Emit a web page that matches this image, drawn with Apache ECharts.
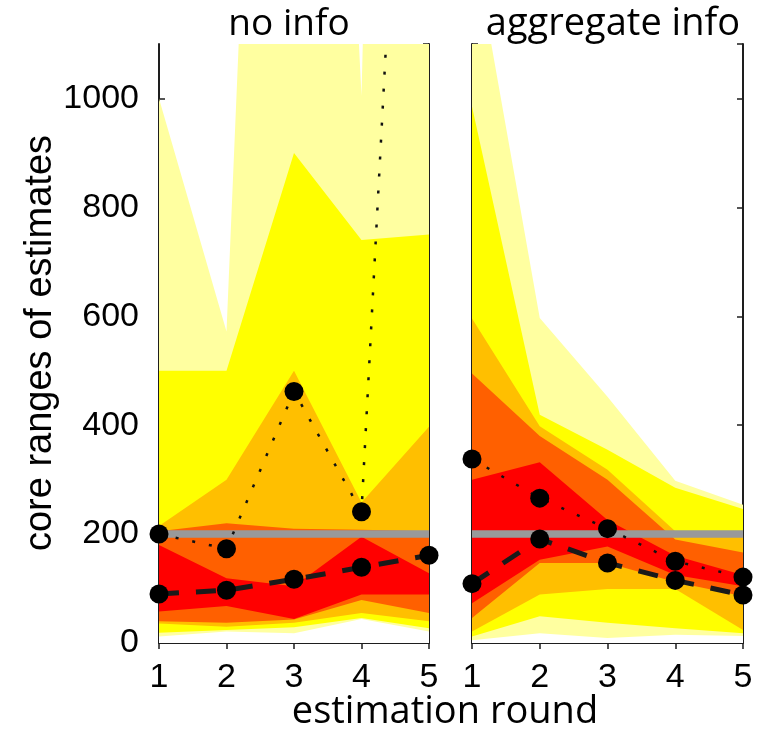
<!DOCTYPE html>
<html>
<head>
<meta charset="utf-8">
<script src="https://cdn.jsdelivr.net/npm/echarts@6/dist/echarts.min.js"></script>
<style>
  html, body { margin: 0; background: #fff; }
  #chart { width: 767px; height: 731px; }
</style>
</head>
<body>
<div id="chart"></div>
<script>
"use strict";

const rounds = [1, 2, 3, 4, 5];
const panelTitles = ["no info", "aggregate info"];
const truthValue = 200;

// band edges per round, lowest edge first (10 edges -> 9 coloured bands)
const noInfoEdges = [
  [12, 21, 18, 44, 21],
  [19, 24, 29, 46, 27],
  [36, 30, 37, 55, 40],
  [40, 37, 43, 79, 55],
  [58, 68, 44, 89, 89],
  [180, 119, 104, 195, 128],
  [205, 220, 210, 208, 205],
  [215, 300, 500, 258, 397],
  [500, 500, 900, 740, 750],
  [1000, 572, 3500, 1005, 6000],
];
const aggInfoEdges = [
  [5, 18, 9, 15, 13],
  [12, 49, 37, 27, 18],
  [21, 89, 99, 99, 24],
  [46, 147, 147, 112, 86],
  [73, 153, 177, 125, 104],
  [300, 332, 226, 160, 125],
  [495, 380, 300, 190, 166],
  [596, 398, 318, 205, 198],
  [985, 419, 355, 285, 246],
  [1300, 597, 452, 298, 254],
];
const noInfoMean = [200, 173, 462, 241, 2600];
const noInfoMedian = [90, 97, 117, 139, 161];
const aggInfoMean = [338, 266, 210, 150, 121];
const aggInfoMedian = [109, 191, 147, 115, 88];

// fill colour beneath each edge, same order as the edges
const edgeColors = ["#ffffff", "#ffffa0", "#ffff00", "#ffbf00", "#ff6000", "#ff0000", "#ff6000", "#ffbf00", "#ffff00", "#ffffa0"];

const tickFont = "Liberation Sans";
const textFont = "Open Sans";
const ink = "#1e1e1e";

const grids = [
  { left: 159, top: 44, width: 270, height: 599 },
  { left: 472, top: 44, width: 271, height: 599 },
];

function xAxes(gridIndex) {
  const base = {
    type: "value", gridIndex, min: 1, max: 5, interval: 1,
    axisLine: { show: true, lineStyle: { color: ink, width: 2 } },
    axisTick: { inside: true, length: 6, lineStyle: { color: ink, width: 1.5 } },
    splitLine: { show: false },
  };
  return [
    { ...base, position: "bottom", axisLabel: { color: "#000", fontSize: 34, fontFamily: tickFont, margin: 18 } },
    { ...base, position: "top", axisLabel: { show: false } },
  ];
}

function yAxes(gridIndex, labels) {
  const base = {
    type: "value", gridIndex, min: 0, max: 1100, interval: 200,
    axisLine: { show: true, lineStyle: { color: ink, width: 2 } },
    axisTick: { inside: true, length: 6, lineStyle: { color: ink, width: 1.5 } },
    splitLine: { show: false },
  };
  return [
    {
      ...base, position: "left",
      axisLabel: { show: labels, showMaxLabel: false, color: "#000", fontSize: 34, fontFamily: tickFont, margin: 20, formatter: (v) => String(v) },
    },
    { ...base, position: "right", axisLabel: { show: false } },
  ];
}

function points(values) {
  return rounds.map((round, i) => [round, values[i]]);
}

function panelSeries(axisIndex, edges, mean, median) {
  const xi = axisIndex * 2, yi = axisIndex * 2;
  const series = [];
  for (let e = edges.length - 1; e >= 0; e--) {
    series.push({
      type: "line", xAxisIndex: xi, yAxisIndex: yi, data: points(edges[e]),
      symbol: "none", silent: true, z: 1,
      lineStyle: { width: 0 },
      areaStyle: { color: edgeColors[e], opacity: 1, origin: "start" },
    });
  }
  series.push({
    type: "line", xAxisIndex: xi, yAxisIndex: yi, data: [[1, truthValue], [5, truthValue]],
    symbol: "none", silent: true, z: 2,
    lineStyle: { color: "#999999", width: 7.5 },
  });
  series.push({
    type: "line", xAxisIndex: xi, yAxisIndex: yi, data: points(mean),
    symbol: "circle", symbolSize: 19, z: 3,
    itemStyle: { color: "#000" },
    lineStyle: { color: "#111", width: 2.5, type: [3, 14] },
  });
  series.push({
    type: "line", xAxisIndex: xi, yAxisIndex: yi, data: points(median),
    symbol: "circle", symbolSize: 19, z: 3,
    itemStyle: { color: "#000" },
    lineStyle: { color: "#1a1a1a", width: 5, type: [20, 17] },
  });
  return series;
}

function label(text, x, y, size) {
  return {
    type: "text", x, y, z: 10,
    style: { text, fill: "#000", font: `${size}px "${textFont}"`, align: "center", verticalAlign: "middle" },
  };
}

const chart = echarts.init(document.getElementById("chart"), null, { renderer: "canvas" });
chart.setOption({
  animation: false,
  backgroundColor: "#fff",
  grid: grids,
  xAxis: [...xAxes(0), ...xAxes(1)],
  yAxis: [...yAxes(0, true), ...yAxes(1, false)],
  series: [
    ...panelSeries(0, noInfoEdges, noInfoMean, noInfoMedian),
    ...panelSeries(1, aggInfoEdges, aggInfoMean, aggInfoMedian),
  ],
  graphic: [
    label(panelTitles[0], 289, 24, 37),
    label(panelTitles[1], 613, 24, 38),
    label("estimation round", 445, 712, 38),
    {
      type: "text", x: 41, y: 343, rotation: Math.PI / 2, z: 10,
      style: { text: "core ranges of estimates", fill: "#000", font: `38px "${tickFont}"`, align: "center", verticalAlign: "middle" },
    },
  ],
});
</script>
</body>
</html>
